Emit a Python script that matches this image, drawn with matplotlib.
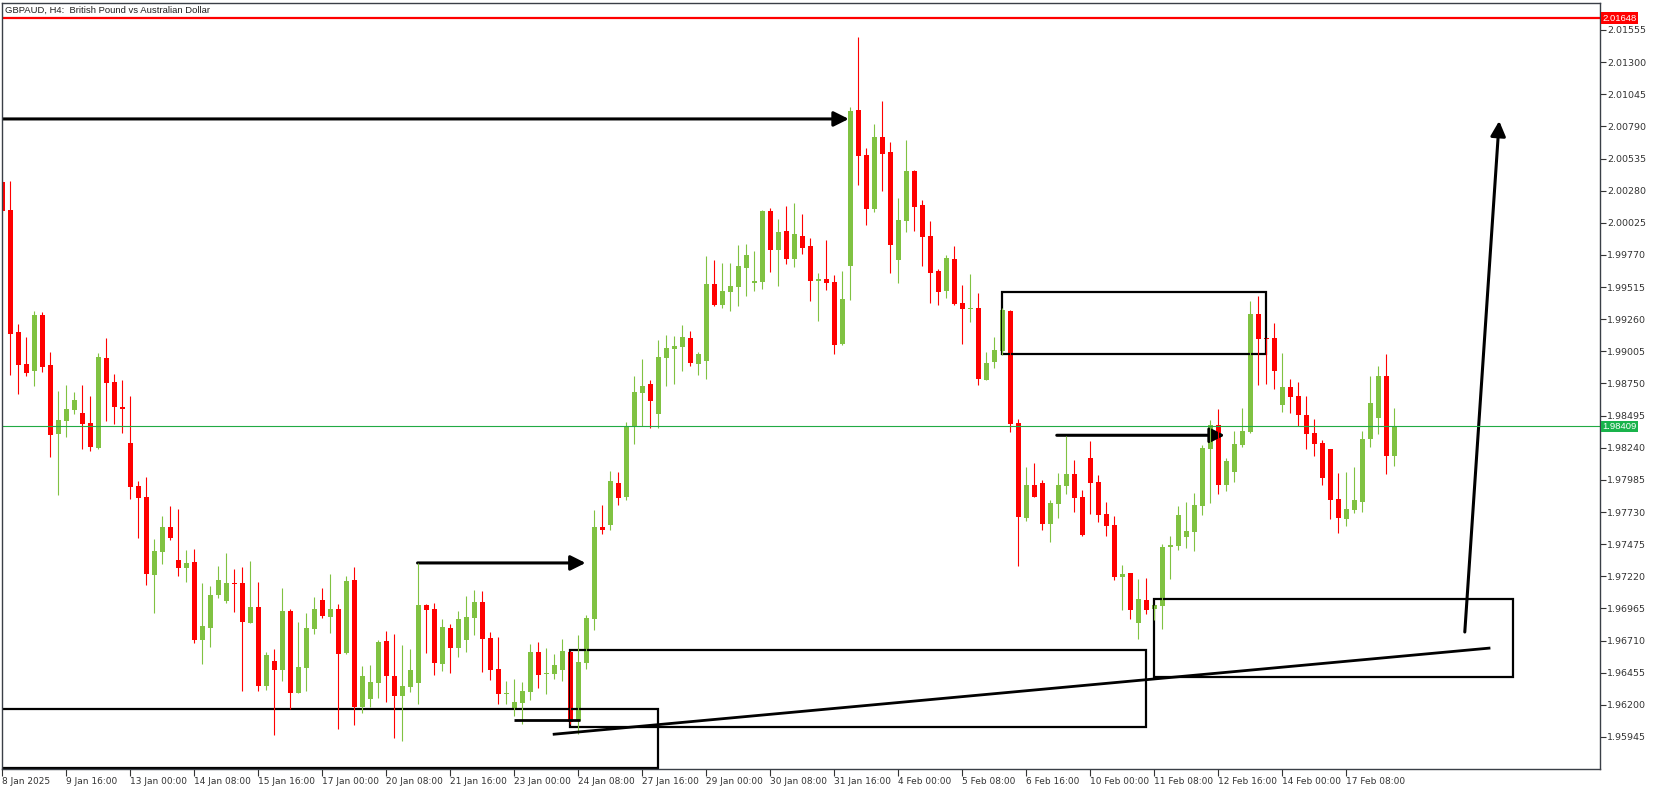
import matplotlib
matplotlib.use('Agg')
import matplotlib.pyplot as plt
import matplotlib.transforms as mtransforms
from matplotlib.patches import Rectangle, FancyArrowPatch

# GBPAUD H4 candles, 8 Jan 2025 08:00 .. 18 Feb 2025 08:00
opens = [2.00349, 2.00127, 1.99159, 1.98905, 1.98852, 1.99294, 1.98897, 1.98352, 1.98455, 1.98542,
         1.98516, 1.98437, 1.98241, 1.98952, 1.98762, 1.98563, 1.98278, 1.97937, 1.97849, 1.97233,
         1.97415, 1.97611, 1.97349, 1.97288, 1.97334, 1.96717, 1.96812, 1.97072, 1.97026, 1.97165,
         1.97167, 1.96852, 1.96977, 1.96352, 1.96548, 1.96479, 1.96945, 1.96296, 1.96495, 1.96804,
         1.97032, 1.96900, 1.96961, 1.96614, 1.97191, 1.96183, 1.96249, 1.96376, 1.96707, 1.96429,
         1.96273, 1.96344, 1.96376, 1.96992, 1.96961, 1.96527, 1.96810, 1.96653, 1.96717, 1.96892,
         1.97016, 1.96731, 1.96485, 1.96289, 1.96175, 1.96217, 1.96304, 1.96619, 1.96447, 1.96447,
         1.96479, 1.96619, 1.96074, 1.96532, 1.96881, 1.97611, 1.97627, 1.97960, 1.97849, 1.98413,
         1.98675, 1.98746, 1.98508, 1.98952, 1.99024, 1.99040, 1.99111, 1.98905, 1.98929, 1.99540,
         1.99373, 1.99476, 1.99516, 1.99666, 1.99547, 1.99555, 2.00119, 1.99809, 1.99960, 1.99738,
         1.99920, 1.99841, 1.99563, 1.99579, 1.99555, 1.99063, 1.99682, 2.00920, 2.00563, 2.00135,
         2.00706, 2.00587, 1.99730, 2.00039, 2.00436, 2.00166, 1.99920, 1.99643, 1.99484, 1.99738,
         1.99389, 1.99341, 1.99349, 1.98778, 1.98921, 1.99008, 1.99325, 1.98437, 1.97685, 1.97945,
         1.97960, 1.97637, 1.97796, 1.97939, 1.98032, 1.97849, 1.98159, 1.97968, 1.97714, 1.97627,
         1.97217, 1.97246, 1.96852, 1.97032, 1.96963, 1.96987, 1.97455, 1.97463, 1.97534, 1.97574,
         1.97780, 1.98233, 1.98421, 1.97945, 1.98048, 1.98262, 1.98365, 1.99301, 1.99111, 1.99111,
         1.98579, 1.98722, 1.98651, 1.98500, 1.98357, 1.98278, 1.98229, 1.97833, 1.97675, 1.97746,
         1.97810, 1.98310, 1.98476, 1.98809, 1.98175]
highs = [2.00365, 2.00357, 1.99222, 1.99119, 1.99325, 1.99317, 1.99000, 1.98690, 1.98738, 1.98682,
         1.98738, 1.98651, 1.98992, 1.99111, 1.98825, 1.98778, 1.98651, 1.97976, 1.98008, 1.97518,
         1.97699, 1.97780, 1.97756, 1.97431, 1.97439, 1.97167, 1.97143, 1.97302, 1.97405, 1.97278,
         1.97294, 1.97342, 1.97175, 1.96619, 1.96643, 1.97127, 1.96961, 1.96857, 1.96929, 1.97056,
         1.97127, 1.97238, 1.97000, 1.97222, 1.97294, 1.96508, 1.96516, 1.96715, 1.96786, 1.96762,
         1.96675, 1.96643, 1.97326, 1.97000, 1.97008, 1.96881, 1.96842, 1.96945, 1.97064, 1.97111,
         1.97103, 1.96778, 1.96738, 1.96389, 1.96405, 1.96381, 1.96683, 1.96699, 1.96653, 1.96604,
         1.96723, 1.96627, 1.96754, 1.96913, 1.97746, 1.97786, 1.98056, 1.98048, 1.98444, 1.98809,
         1.98944, 1.98778, 1.99095, 1.99135, 1.99127, 1.99214, 1.99167, 1.99000, 1.99762, 1.99730,
         1.99706, 1.99706, 1.99849, 1.99857, 1.99801, 2.00127, 2.00143, 2.00055, 2.00158, 2.00182,
         2.00095, 1.99905, 1.99627, 1.99889, 1.99611, 1.99643, 2.00944, 2.01499, 2.00619, 2.00809,
         2.00992, 2.00666, 2.00222, 2.00682, 2.00444, 2.00206, 2.00039, 1.99658, 1.99770, 1.99841,
         1.99532, 1.99619, 1.99468, 1.99000, 1.99119, 1.99349, 1.99333, 1.98468, 1.98087, 1.98119,
         1.97984, 1.97826, 1.98040, 1.98333, 1.98143, 1.97905, 1.98294, 1.98024, 1.97810, 1.97699,
         1.97310, 1.97246, 1.97199, 1.97207, 1.96992, 1.97476, 1.97540, 1.97778, 1.97810, 1.97881,
         1.98262, 1.98460, 1.98548, 1.98159, 1.98373, 1.98556, 1.99405, 1.99444, 1.99113, 1.99230,
         1.98992, 1.98786, 1.98762, 1.98651, 1.98468, 1.98302, 1.98230, 1.98040, 1.98048, 1.98087,
         1.98373, 1.98809, 1.98889, 1.98984, 1.98556]
lows = [2.00111, 1.98817, 1.98667, 1.98809, 1.98730, 1.98844, 1.98169, 1.97868, 1.98328, 1.98508,
        1.98233, 1.98217, 1.98233, 1.98452, 1.98429, 1.98360, 1.97836, 1.97526, 1.97153, 1.96931,
        1.97320, 1.97511, 1.97225, 1.97177, 1.96693, 1.96527, 1.96661, 1.97050, 1.97011, 1.96939,
        1.96312, 1.96850, 1.96312, 1.96320, 1.95963, 1.96392, 1.96169, 1.96294, 1.96312, 1.96765,
        1.96892, 1.96773, 1.96011, 1.96606, 1.96043, 1.96138, 1.96185, 1.96257, 1.96225, 1.95939,
        1.95916, 1.96304, 1.96209, 1.96614, 1.96439, 1.96471, 1.96455, 1.96582, 1.96622, 1.96757,
        1.96463, 1.96400, 1.96209, 1.96209, 1.96114, 1.96050, 1.96241, 1.96336, 1.96289, 1.96408,
        1.96392, 1.96050, 1.95971, 1.96487, 1.96794, 1.97556, 1.97587, 1.97786, 1.97826, 1.98270,
        1.98413, 1.98397, 1.98397, 1.98730, 1.98746, 1.98849, 1.98889, 1.98817, 1.98786, 1.99365,
        1.99349, 1.99325, 1.99365, 1.99444, 1.99484, 1.99500, 1.99635, 1.99524, 1.99698, 1.99674,
        1.99778, 1.99405, 1.99246, 1.99492, 1.98984, 1.99055, 1.99413, 2.00325, 2.00008, 2.00111,
        2.00277, 1.99627, 1.99547, 1.99952, 1.99960, 1.99682, 1.99389, 1.99373, 1.99428, 1.99373,
        1.99063, 1.99238, 1.98738, 1.98776, 1.98873, 1.98976, 1.98367, 1.97304, 1.97661, 1.97850,
        1.97590, 1.97495, 1.97685, 1.97876, 1.97733, 1.97542, 1.97717, 1.97653, 1.97542, 1.97193,
        1.96955, 1.96884, 1.96725, 1.96923, 1.96873, 1.96804, 1.97201, 1.97431, 1.97447, 1.97423,
        1.97709, 1.97804, 1.97876, 1.97899, 1.97968, 1.98249, 1.98357, 1.98738, 1.98746, 1.98706,
        1.98524, 1.98516, 1.98413, 1.98230, 1.98175, 1.97945, 1.97675, 1.97564, 1.97619, 1.97722,
        1.97730, 1.98246, 1.98349, 1.98032, 1.98095]
closes = [2.00121, 1.99145, 1.98899, 1.98836, 1.99294, 1.98881, 1.98344, 1.98460, 1.98548, 1.98619,
          1.98431, 1.98244, 1.98960, 1.98756, 1.98566, 1.98550, 1.97931, 1.97844, 1.97241, 1.97421,
          1.97611, 1.97526, 1.97288, 1.97326, 1.96717, 1.96826, 1.97072, 1.97191, 1.97167, 1.97159,
          1.96860, 1.96977, 1.96352, 1.96596, 1.96479, 1.96945, 1.96296, 1.96500, 1.96810, 1.96961,
          1.96907, 1.96961, 1.96606, 1.97183, 1.96183, 1.96429, 1.96381, 1.96699, 1.96431, 1.96273,
          1.96350, 1.96477, 1.96992, 1.96955, 1.96534, 1.96818, 1.96653, 1.96881, 1.96897, 1.97016,
          1.96725, 1.96479, 1.96289, 1.96294, 1.96223, 1.96310, 1.96619, 1.96439, 1.96453, 1.96516,
          1.96627, 1.96066, 1.96540, 1.96889, 1.97611, 1.97587, 1.97976, 1.97841, 1.98413, 1.98682,
          1.98730, 1.98613, 1.98960, 1.99032, 1.99047, 1.99119, 1.98913, 1.98984, 1.99540, 1.99373,
          1.99484, 1.99524, 1.99682, 1.99770, 1.99563, 2.00119, 1.99809, 1.99952, 1.99738, 1.99936,
          1.99825, 1.99563, 1.99579, 1.99547, 1.99055, 1.99420, 2.00912, 2.00555, 2.00135, 2.00706,
          2.00571, 1.99849, 2.00047, 2.00436, 2.00151, 1.99912, 1.99627, 1.99476, 1.99746, 1.99381,
          1.99341, 1.99349, 1.98786, 1.98913, 1.99016, 1.99333, 1.98431, 1.97693, 1.97945, 1.97852,
          1.97637, 1.97802, 1.97945, 1.98032, 1.97844, 1.97548, 1.97963, 1.97709, 1.97622, 1.97217,
          1.97238, 1.96955, 1.97040, 1.96955, 1.96990, 1.97453, 1.97468, 1.97707, 1.97580, 1.97786,
          1.98238, 1.98421, 1.97945, 1.98135, 1.98270, 1.98373, 1.99301, 1.99103, 1.99099, 1.98852,
          1.98722, 1.98643, 1.98500, 1.98349, 1.98270, 1.98000, 1.97826, 1.97683, 1.97754, 1.97826,
          1.98310, 1.98595, 1.98809, 1.98175, 1.98409]

date_labels = ['8 Jan 2025', '9 Jan 16:00', '13 Jan 00:00', '14 Jan 08:00', '15 Jan 16:00',
               '17 Jan 00:00', '20 Jan 08:00', '21 Jan 16:00', '23 Jan 00:00', '24 Jan 08:00',
               '27 Jan 16:00', '29 Jan 00:00', '30 Jan 08:00', '31 Jan 16:00', '4 Feb 00:00',
               '5 Feb 08:00', '6 Feb 16:00', '10 Feb 00:00', '11 Feb 08:00', '12 Feb 16:00',
               '14 Feb 00:00', '17 Feb 08:00']
price_ticks = [2.01555, 2.01300, 2.01045, 2.00790, 2.00535, 2.00280, 2.00025, 1.99770, 1.99515,
               1.99260, 1.99005, 1.98750, 1.98495, 1.98240, 1.97985, 1.97730, 1.97475, 1.97220,
               1.96965, 1.96710, 1.96455, 1.96200, 1.95945]
red_level = 2.01648
bid_level = 1.98409

# hand-drawn objects (bar index, price)
boxes = [(124.9, 1.98986, 157.9, 1.99476), (144.0, 1.96421, 188.8, 1.97040),
         (70.9, 1.96027, 143.0, 1.96638), (-1.0, 1.95700, 81.9, 1.96167)]
arrows = [(-1.0, 2.00849, 105.8, 2.00849), (51.9, 1.97326, 72.9, 1.97326),
          (131.8, 1.98339, 152.8, 1.98339), (182.8, 1.96778, 187.1, 2.00833)]
segments = [(63.9, 1.96078, 72.2, 1.96078), (68.8, 1.95966, 186.0, 1.96651)]

up_col = '#80c242'
dn_col = '#ff0000'

fig = plt.figure(figsize=(16.53, 7.90), dpi=100)
ax = fig.add_axes([2 / 1653, 21 / 790, 1598 / 1653, 766 / 790])
plt.rcParams['font.family'] = ['Liberation Sans', 'DejaVu Sans']

xs = list(range(len(opens)))
for i in xs:
    o, h, l, c = opens[i], highs[i], lows[i], closes[i]
    col = up_col if c >= o else dn_col
    ax.vlines(i, l, h, color=col, linewidth=0.8)
    body = max(abs(c - o), 0.00009)
    ax.bar(i, body, bottom=min(o, c), width=0.62, color=col, linewidth=0)

ax.axhline(red_level, color='#ff0000', linewidth=1.6)
ax.axhline(bid_level, color='#22aa44', linewidth=0.8)

for x0, y0, x1, y1 in boxes:
    ax.add_patch(Rectangle((x0, y0), x1 - x0, y1 - y0, fill=False, edgecolor='black', linewidth=1.6))
for x0, y0, x1, y1 in segments:
    ax.plot([x0, x1], [y0, y1], color='black', linewidth=2.0, solid_capstyle='butt')
for x0, y0, x1, y1 in arrows:
    ax.add_patch(FancyArrowPatch((x0, y0), (x1, y1), arrowstyle='-|>,head_length=0.9,head_width=0.45',
                                 mutation_scale=10, color='black', linewidth=2.2, shrinkA=0, shrinkB=0))

ax.set_xlim(-0.04, 199.7)
ax.set_ylim(1.95691, 2.01769)

ax.yaxis.tick_right()
ax.set_yticks(price_ticks)
ax.set_yticklabels(['%.5f' % p for p in price_ticks])
ax.set_xticks(range(0, 8 * len(date_labels), 8))
ax.set_xticklabels(date_labels, ha='left')
shift = mtransforms.ScaledTranslation(2 / 100, 0, fig.dpi_scale_trans)
for t in ax.get_xticklabels():
    t.set_transform(t.get_transform() + shift)
ax.tick_params(axis='y', direction='out', length=4, width=0.8, colors='#333333', labelsize=6.8, pad=1)
ax.tick_params(axis='x', direction='out', length=5, width=0.8, colors='#333333', labelsize=6.5, pad=1)
for s in ax.spines.values():
    s.set_color('#3a3f47')
    s.set_linewidth(1.0)

ax.text(1.0015, red_level, '%.5f' % red_level, transform=ax.get_yaxis_transform(), color='white',
        fontsize=6.8, va='center', ha='left',
        bbox=dict(boxstyle='square,pad=0.15', facecolor='#ff0000', edgecolor='none'))
ax.text(1.0015, bid_level, '%.5f' % bid_level, transform=ax.get_yaxis_transform(), color='white',
        fontsize=6.8, va='center', ha='left',
        bbox=dict(boxstyle='square,pad=0.15', facecolor='#19b34b', edgecolor='none'))

fig.text(5 / 1653, 1 - 10 / 790, 'GBPAUD, H4:  British Pound vs Australian Dollar', fontsize=6.8,
         color='#222222', va='center', ha='left')

fig.savefig('out.png', dpi=100)
